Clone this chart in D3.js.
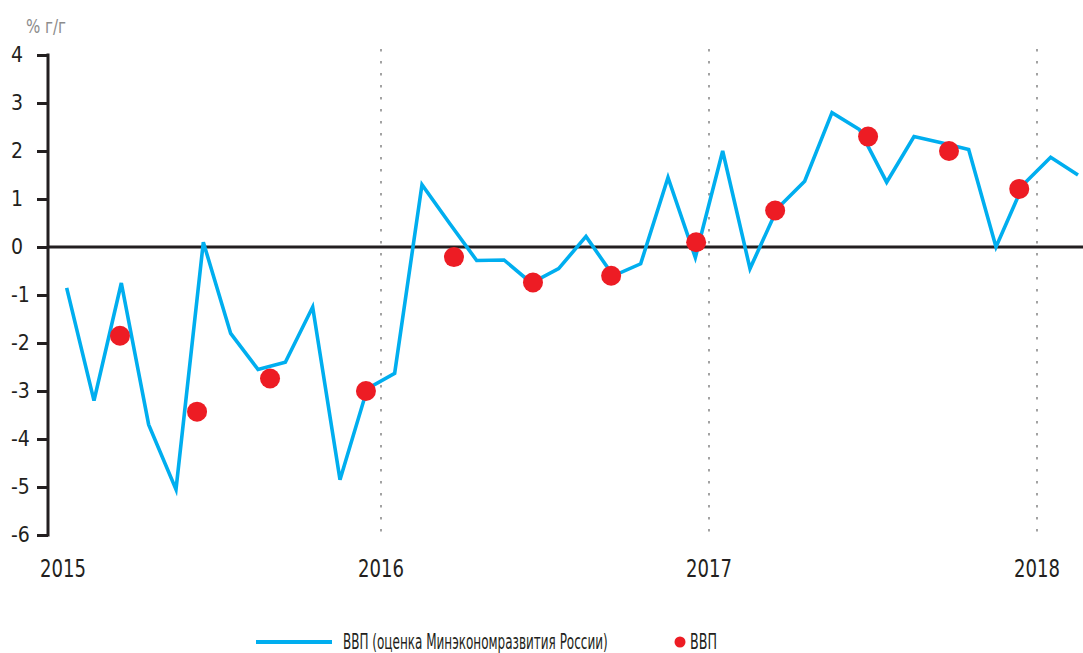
<!DOCTYPE html>
<meta charset="utf-8">
<style>
body { margin: 0; background: #fff; }
svg { display: block; }
text { font-family: "DejaVu Sans Condensed", "Liberation Sans", sans-serif; fill: #231f20; }
</style>
<svg width="1083" height="653"></svg>
<script src="https://cdn.jsdelivr.net/npm/d3@7/dist/d3.min.js"></script>
<script>

// monthly estimate, Jan 2015 .. Feb 2018
var monthly = [
  -0.85, -3.2, -0.75, -3.7, -5.05, 0.1, -1.8, -2.55, -2.4, -1.25, -4.85, -2.95,
  -2.63, 1.3, 0.5, -0.28, -0.27, -0.75, -0.45, 0.22, -0.6, -0.35, 1.45, -0.22,
  2.0, -0.45, 0.8, 1.37, 2.8, 2.45, 1.35, 2.3, 2.17, 2.03, 0.0, 1.3,
  1.87, 1.5
];

// quarterly GDP, position in months from Jan 2015 (as placed on the chart)
var quarterPos = [1.95, 4.77, 7.44, 10.95, 14.17, 17.06, 19.92, 23.03, 25.92, 29.32, 32.28, 34.85];
var quarterly = [-1.85, -3.43, -2.74, -3.0, -0.21, -0.74, -0.6, 0.1, 0.76, 2.3, 2.0, 1.21];

var years = ["2015", "2016", "2017", "2018"];
var yTicks = [4, 3, 2, 1, 0, -1, -2, -3, -4, -5, -6];

var blue = "#00aeef",
    red = "#ed1c24",
    dark = "#231f20";

var svg = d3.select("svg");

var x = d3.scaleLinear().domain([0, 36]).range([53, 1037]),
    y = d3.scaleLinear().domain([-6, 4]).range([535, 55]);

// squeeze a text horizontally so it takes the given width (narrow font look)
function narrow(sel, left, baseline, width) {
  var w = sel.node().getComputedTextLength();
  sel.attr("x", 0).attr("y", 0)
     .attr("transform", "translate(" + left + "," + baseline + ") scale(" + (width / w) + ",1)");
}

// unit label
var unit = svg.append("text")
    .style("font-size", "19px")
    .style("fill", "#8c8c8c")
    .text("% г/г");
narrow(unit, 26, 33, 40);

// year separators
svg.selectAll(".year-line")
    .data([12, 24, 36])
  .enter().append("line")
    .attr("x1", function(d) { return x(d); })
    .attr("x2", function(d) { return x(d); })
    .attr("y1", y(4) - 6)
    .attr("y2", y(-6))
    .attr("stroke", "#8c8c8c")
    .attr("stroke-width", 1.6)
    .attr("stroke-dasharray", "2.5,9.5");

// zero line
svg.append("line")
    .attr("x1", 48).attr("x2", 1083)
    .attr("y1", y(0)).attr("y2", y(0))
    .attr("stroke", dark)
    .attr("stroke-width", 3);

// y axis
var yAxis = svg.append("g")
    .attr("transform", "translate(48,0)")
    .call(d3.axisLeft(y).tickValues(yTicks).tickSize(11).tickFormat(d3.format("d")));
yAxis.select(".domain").remove();
yAxis.append("line")
    .attr("y1", y(4) - 1.5).attr("y2", y(-6) + 1.5)
    .attr("stroke", dark).attr("stroke-width", 3);
yAxis.selectAll(".tick line").attr("stroke", dark).attr("stroke-width", 3);
yAxis.selectAll(".tick text")
    .attr("x", -37)
    .attr("text-anchor", "start")
    .style("font-size", "21px")
    .style("font-family", null)
    .attr("fill", dark)
    .text(function(d) { return d < 0 ? "-" + Math.abs(d) : d; });

// x labels
svg.selectAll(".year")
    .data(years)
  .enter().append("text")
    .attr("class", "year")
    .style("font-size", "25px")
    .text(function(d) { return d; })
    .each(function(d, i) {
      narrow(d3.select(this), i === 0 ? 40 : x(i * 12) - 23, 577, 46);
    });

// monthly line
var line = d3.line()
    .x(function(d, i) { return x(i + 0.5); })
    .y(function(d) { return y(d); });

svg.append("path")
    .datum(monthly)
    .attr("d", line)
    .attr("fill", "none")
    .attr("stroke", blue)
    .attr("stroke-width", 3.6)
    .attr("stroke-linejoin", "miter");

// quarterly dots
svg.selectAll(".dot")
    .data(quarterly)
  .enter().append("circle")
    .attr("class", "dot")
    .attr("cx", function(d, i) { return x(quarterPos[i] + 0.5); })
    .attr("cy", function(d) { return y(d); })
    .attr("r", 10)
    .attr("fill", red);

// legend
var legend = svg.append("g").attr("transform", "translate(0,642)");
legend.append("line")
    .attr("x1", 256).attr("x2", 332)
    .attr("stroke", blue).attr("stroke-width", 4);
narrow(legend.append("text").style("font-size", "21px")
    .text("ВВП (оценка Минэкономразвития России)"), 343, 7, 265);
legend.append("circle")
    .attr("cx", 680).attr("r", 5.5)
    .attr("fill", red);
narrow(legend.append("text").style("font-size", "21px").text("ВВП"), 690, 7, 27);

</script>
